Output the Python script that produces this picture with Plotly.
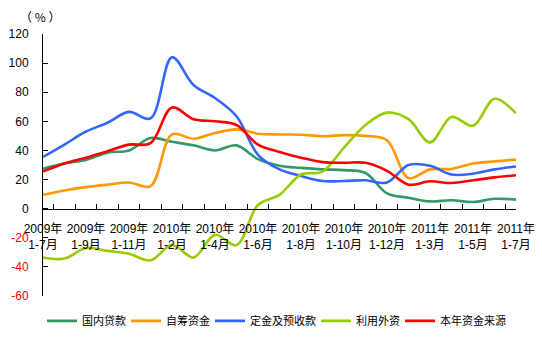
import plotly.graph_objects as go

# Cumulative periods (categories on the x axis)
periods = [
    "2009年1-7月", "2009年1-8月", "2009年1-9月", "2009年1-10月", "2009年1-11月", "2009年1-12月",
    "2010年1-2月", "2010年1-3月", "2010年1-4月", "2010年1-5月", "2010年1-6月", "2010年1-7月",
    "2010年1-8月", "2010年1-9月", "2010年1-10月", "2010年1-11月", "2010年1-12月",
    "2011年1-2月", "2011年1-3月", "2011年1-4月", "2011年1-5月", "2011年1-6月", "2011年1-7月",
]

# Year-on-year growth (%) by funding source
domestic_loans = [27.5, 31, 33.5, 38.5, 40, 48.5, 46, 43.5, 40, 43.5, 34, 29.5, 28, 27, 26.5, 24.5,
                  10.5, 7.5, 5, 5.8, 4.6, 6.8, 6.2]
self_raised = [9.5, 12.5, 14.8, 16.5, 18, 15.5, 51, 48, 52, 54.5, 51.5, 51, 50.8, 49.8, 50.5, 50,
               47, 21, 27, 27.3, 31, 32.5, 33.7]
deposits_advances = [35.5, 44, 53, 59, 66.5, 62, 104, 85, 76, 63.5, 37, 27, 22.5, 19, 19, 19.5,
                     18, 30, 29.5, 23.5, 24, 27, 29]
foreign_capital = [-33.5, -34.3, -27, -29, -31, -35.5, -25, -33.5, -18, -25, 2.5, 9.5, 23.5, 25.5,
                   42, 57.5, 66, 61.5, 45.5, 63, 57, 75.5, 65.5]
total_funds = [25.5, 31, 35, 39.5, 44, 45, 69.5, 61.5, 60, 57.5, 44, 39, 35, 32, 31.5, 31.5,
               26, 16.5, 18.8, 17.6, 19.5, 21.5, 23]

series = [
    ("国内贷款", domestic_loans, "#339966"),
    ("自筹资金", self_raised, "#FF9900"),
    ("定金及预收款", deposits_advances, "#3366FF"),
    ("利用外资", foreign_capital, "#99CC00"),
    ("本年资金来源", total_funds, "#FF0000"),
]

y_ticks = list(range(-60, 121, 20))
y_ticktext = [f'<span style="color:#FF0000">{v}</span>' if v < 0 else str(v) for v in y_ticks]

x_ticktext = []
for i, p in enumerate(periods):
    if i % 2 == 0:
        year, span = p.split("年")
        x_ticktext.append(f"{year}年<br>{span}")
    else:
        x_ticktext.append("")

FONT = "Liberation Sans, Arial, Noto Sans CJK SC, sans-serif"
LEGEND_SIZE = 11

fig = go.Figure()
for name, vals, color in series:
    # compact legend entries: width follows the label length
    fig.add_trace(go.Scatter(
        x=periods, y=vals, name=name, mode="lines",
        line=dict(color=color, width=2.6, shape="spline", smoothing=1.0),
        legendwidth=len(name) * LEGEND_SIZE - 5,
    ))

fig.update_layout(
    width=542, height=344,
    margin=dict(l=43, r=26, t=34, b=48, autoexpand=False),
    paper_bgcolor="white", plot_bgcolor="white",
    font=dict(family=FONT, size=12, color="black"),
    showlegend=True,
    legend=dict(orientation="h", x=-0.002, xanchor="left", y=-0.095, yanchor="middle",
                font=dict(size=LEGEND_SIZE), itemwidth=30, tracegroupgap=0,
                bgcolor="rgba(0,0,0,0)"),
    xaxis=dict(
        type="category", anchor="free", position=60 / 180,
        tickmode="array", tickvals=periods, ticktext=x_ticktext,
        tickson="boundaries", ticks="inside", ticklen=5, tickcolor="black",
        showline=True, linecolor="black", linewidth=1,
        showgrid=False, zeroline=False, tickangle=0,
        tickfont=dict(size=12), ticklabelstandoff=9,
    ),
    yaxis=dict(
        range=[-60, 120], tickmode="array", tickvals=y_ticks, ticktext=y_ticktext,
        ticks="inside", ticklen=5, tickcolor="black",
        showline=True, linecolor="black", linewidth=1,
        showgrid=False, zeroline=False, tickfont=dict(size=12),
        ticklabelstandoff=11,
    ),
    annotations=[dict(
        text="（ % ）", xref="paper", yref="paper", x=-3 / 473, y=(296 - 17) / 262,
        xanchor="center", yanchor="middle", showarrow=False,
        font=dict(size=12, family="Noto Sans CJK SC, sans-serif"),
    )],
)

fig.write_html("out.html")
